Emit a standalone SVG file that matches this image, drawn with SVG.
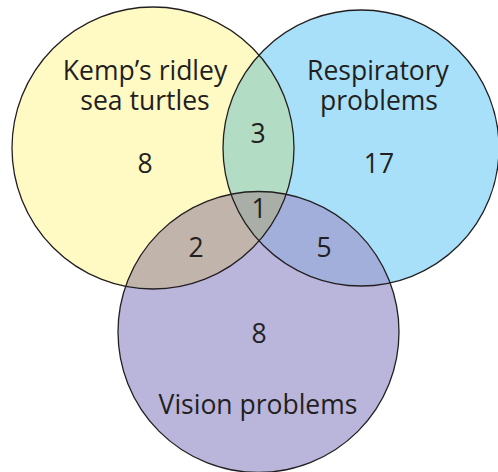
<svg xmlns="http://www.w3.org/2000/svg" width="498" height="472" viewBox="0 0 498 472">
<style>
text{font-family:"Open Sans","Noto Sans","Liberation Sans",sans-serif;fill:#231f20;text-anchor:middle;font-size:26.5px}
.ring{fill:none;stroke:#231f20;stroke-width:1.3}
</style>
<defs>
<clipPath id="cy"><circle cx="153" cy="148" r="141"/></clipPath>
<clipPath id="cb"><circle cx="361" cy="148" r="138"/></clipPath>
<clipPath id="cp"><circle cx="258.5" cy="332" r="140.5"/></clipPath>
</defs>
<rect width="498" height="472" fill="#fff"/>
<g id="kemp">
<circle cx="153" cy="148" r="141" fill="#fff9c4"/>
</g>
<g id="resp">
<circle cx="361" cy="148" r="138" fill="#a8e0f9"/>
</g>
<g id="vision">
<circle cx="258.5" cy="332" r="140.5" fill="#bab5db"/>
</g>
<g id="overlaps">
<circle cx="361" cy="148" r="138" fill="#b2dcc3" clip-path="url(#cy)"/>
<g clip-path="url(#cy)"><circle cx="258.5" cy="332" r="140.5" fill="#c0b4ab"/></g>
<g clip-path="url(#cb)"><circle cx="258.5" cy="332" r="140.5" fill="#a1afda"/></g>
<g clip-path="url(#cy)"><g clip-path="url(#cb)"><circle cx="258.5" cy="332" r="140.5" fill="#a9aea7"/></g></g>
</g>
<g id="outlines">
<circle class="ring" cx="153" cy="148" r="141"/>
<circle class="ring" cx="361" cy="148" r="138"/>
<circle class="ring" cx="258.5" cy="332" r="140.5"/>
</g>
<g id="labels">
<text><tspan x="145" y="80">Kemp’s ridley</tspan><tspan x="145" y="110">sea turtles</tspan></text>
<text><tspan x="378" y="80">Respiratory</tspan><tspan x="379" y="110">problems</tspan></text>
<text x="258" y="414">Vision problems</text>
<text x="145" y="173">8</text>
<text x="379" y="173">17</text>
<text x="258" y="143">3</text>
<text x="259" y="218">1</text>
<text x="196" y="257">2</text>
<text x="324" y="257">5</text>
<text x="259" y="343">8</text>
</g>
</svg>
